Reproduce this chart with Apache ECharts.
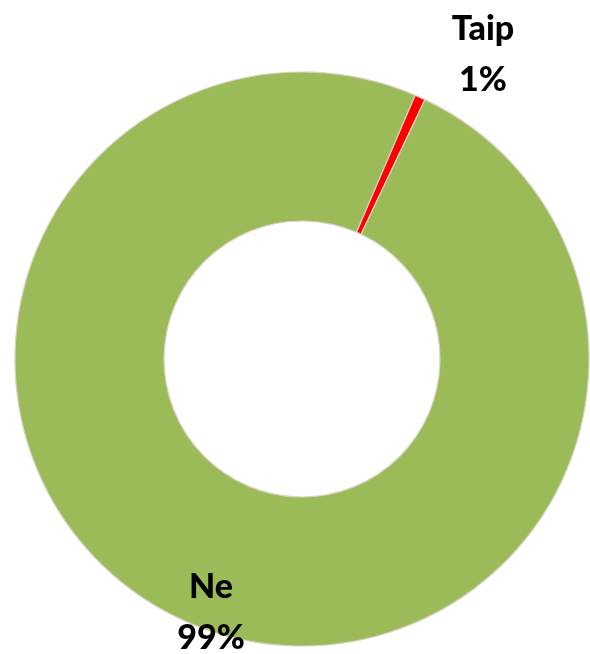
<!DOCTYPE html>
<html>
<head>
<meta charset="utf-8">
<script src="https://cdn.jsdelivr.net/npm/echarts@6/dist/echarts.min.js"></script>
<style>
  html, body { margin: 0; padding: 0; background: #fff; }
  #chart { width: 590px; height: 654px; }
</style>
</head>
<body>
<div id="chart"></div>
<script>
// atsakymai
const categories = ['Taip', 'Ne']
const values = [0.6, 99.4]
const colors = ['#ff0000', '#9bbb59']
// label anchors (px)
const labelPos = [[483, 55], [211, 613]]

let myChart = echarts.init(document.getElementById('chart'))
myChart.setOption({
  animation: false,
  series: [
    {
      type: 'pie',
      center: [302, 359],
      radius: [138, 287],
      startAngle: 66.8,
      clockwise: true,
      avoidLabelOverlap: false,
      itemStyle: {
        borderColor: '#d8d2c2',
        borderWidth: 1.2
      },
      label: {
        show: true,
        position: 'outside',
        formatter: function (params) {
          return params.name + '\n' + Math.round(params.percent) + '%'
        },
        fontFamily: 'Lato',
        fontWeight: 900,
        fontSize: 34,
        lineHeight: 51,
        color: '#000',
        align: 'center'
      },
      labelLine: { show: false },
      labelLayout: function (params) {
        let p = labelPos[params.dataIndex]
        return { x: p[0], y: p[1], align: 'center', verticalAlign: 'middle' }
      },
      data: categories.map((c, i) => ({
        name: c,
        value: values[i],
        itemStyle: { color: colors[i] }
      }))
    }
  ]
})
</script>
</body>
</html>
